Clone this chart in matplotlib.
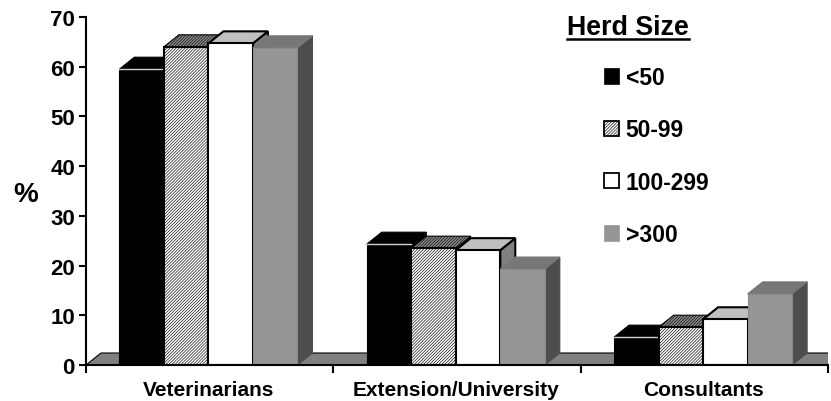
import numpy as np
import matplotlib.pyplot as plt
from matplotlib.lines import Line2D

plt.rcParams['font.family'] = ['Liberation Sans', 'DejaVu Sans']
plt.rcParams['font.weight'] = 'bold'
plt.rcParams['hatch.linewidth'] = 0.45

categories = ['Veterinarians', 'Extension/University', 'Consultants']
sizes = ['<50', '50-99', '100-299', '>300']
under_50 = [59.5, 24.3, 5.6]
from_50 = [64.0, 23.5, 7.6]
from_100 = [64.7, 23.1, 9.2]
over_300 = [63.8, 19.3, 14.3]
yticks = [0, 10, 20, 30, 40, 50, 60, 70]

series = [under_50, from_50, from_100, over_300]
front = ['black', 'white', 'white', '#969696']
top = ['black', '#8c8c8c', '#c0c0c0', '#777777']
side = ['black', '#555555', '#808080', '#4d4d4d']
edge = ['black', 'black', 'black', '#8a8a8a']
hatch = [None, '/'*11, None, None]

fig = plt.figure(figsize=(8.31, 4.02), dpi=100)
ax = fig.add_axes([86/831, 36/402, 742/831, 348/402])
ax.set_xlim(0, 3)
ax.set_ylim(0, 70)

w = 0.18
dx = 15/(742/3)
dy = 12/(348/70)

# grey floor behind the bars
ax.fill([0, dx, 3+dx, 3], [0, dy, dy, 0], fc='#808080', ec='black', lw=0.8, zorder=1)

x = np.arange(3) + 0.495
z = 2
for i, vals in enumerate(series):
    xs = x + (i-2)*w
    for xi, v in zip(xs, vals):
        sc = 'black' if i == 2 else side[i]
        ax.fill([xi+w, xi+w+dx, xi+w+dx, xi+w], [0, dy, v+dy, v], fc=side[i], ec=sc, lw=1.5 if i == 2 else 0.8, zorder=z)
        tc = '#777777' if i == 3 else 'black'
        ax.fill([xi, xi+dx, xi+w+dx, xi+w], [v, v+dy, v+dy, v], fc=top[i], ec=tc, hatch=hatch[i],
                lw=1.5 if i == 2 else 0.8, zorder=z)
        ax.bar(xi, v, w, align='edge', color=front[i], edgecolor=edge[i],
               hatch=hatch[i], lw=1.5 if i in (1, 2) else 0.8, zorder=z+1)
        if i == 0:
            # light line along the front top edge of the black bars
            ax.plot([xi, xi+w], [v, v], color='#d0d0d0', lw=1, zorder=z+1)
        z += 2

ax.spines['top'].set_visible(False)
ax.spines['right'].set_visible(False)
ax.spines['left'].set_linewidth(1.5)
ax.spines['bottom'].set_linewidth(1.5)
for s in ax.spines.values():
    s.set_zorder(100)

ax.set_yticks(yticks)
ax.tick_params(axis='y', length=5, width=1.5, labelsize=16, pad=3)
ax.set_xticks([0, 1, 2, 3])
ax.set_xticklabels([])
ax.tick_params(axis='x', which='major', length=6, width=1.5)
ax.set_xticks(np.arange(3)+0.495, categories, minor=True)
ax.tick_params(axis='x', which='minor', length=0, labelsize=15, pad=11)

fig.text(26/831, 1-195/402, '%', fontsize=20, ha='center', va='center')

fig.text(628/831, 1-28/402, 'Herd Size', fontsize=19.3, ha='center', va='center')
fig.add_artist(Line2D([567/831, 689/831], [1-40/402, 1-40/402], color='black', lw=1.8))

handles = [plt.Rectangle((0, 0), 1, 1, fc=front[i], ec='black' if i in (1, 2) else front[i],
                         hatch=hatch[i], lw=1.3 if i in (1, 2) else 0.5) for i in range(4)]
ax.legend(handles, sizes, loc='upper left', bbox_to_anchor=(604/831, 1-67/402), bbox_transform=fig.transFigure,
          frameon=False, fontsize=16.5, handlelength=0.65, handleheight=0.65, handletextpad=0.3,
          labelspacing=1.28, borderpad=0, borderaxespad=0)

fig.savefig('out.png', dpi=100)
